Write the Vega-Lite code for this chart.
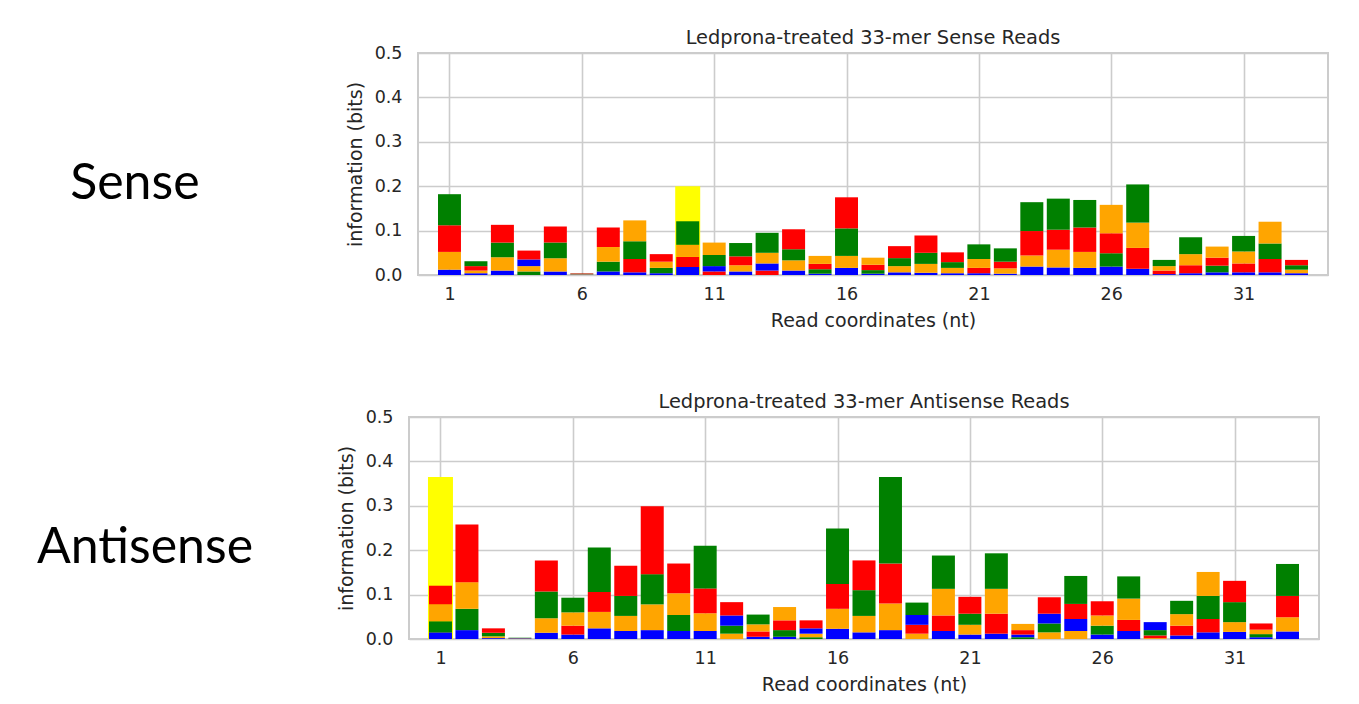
{
  "$schema": "https://vega.github.io/schema/vega-lite/v6.json",
  "background": "white",
  "padding": {"top": 26, "left": 0, "right": 0, "bottom": 0},
  "config": {
    "font": "DejaVu Sans",
    "view": {"stroke": "#cccccc", "strokeWidth": 2},
    "axis": {
      "labelFont": "DejaVu Sans", "labelFontSize": 17.5, "labelColor": "#262626",
      "titleFont": "DejaVu Sans", "titleFontSize": 19, "titleFontWeight": "normal", "titleColor": "#262626",
      "ticks": false, "tickSize": 0, "domain": false,
      "gridColor": "#cccccc", "gridWidth": 1.6, "zindex": 1
    },
    "title": {"font": "DejaVu Sans", "fontSize": 19.4, "fontWeight": "normal", "color": "#262626", "baseline": "alphabetic", "offset": -4}
  },
  "datasets": {
    "sense": [
      {"pos":1,"base":"C","bits":0.012},{"pos":1,"base":"G","bits":0.04},{"pos":1,"base":"T","bits":0.06},{"pos":1,"base":"A","bits":0.07},
      {"pos":2,"base":"C","bits":0.004},{"pos":2,"base":"G","bits":0.006},{"pos":2,"base":"T","bits":0.01},{"pos":2,"base":"A","bits":0.011},
      {"pos":3,"base":"C","bits":0.01},{"pos":3,"base":"G","bits":0.03},{"pos":3,"base":"A","bits":0.033},{"pos":3,"base":"T","bits":0.04},
      {"pos":4,"base":"A","bits":0.008},{"pos":4,"base":"G","bits":0.012},{"pos":4,"base":"C","bits":0.015},{"pos":4,"base":"T","bits":0.02},
      {"pos":5,"base":"C","bits":0.008},{"pos":5,"base":"G","bits":0.03},{"pos":5,"base":"A","bits":0.035},{"pos":5,"base":"T","bits":0.036},
      {"pos":6,"base":"C","bits":0.001},{"pos":6,"base":"G","bits":0.001},{"pos":6,"base":"A","bits":0.001},{"pos":6,"base":"T","bits":0.001},
      {"pos":7,"base":"C","bits":0.008},{"pos":7,"base":"A","bits":0.022},{"pos":7,"base":"G","bits":0.033},{"pos":7,"base":"T","bits":0.044},
      {"pos":8,"base":"C","bits":0.006},{"pos":8,"base":"T","bits":0.03},{"pos":8,"base":"A","bits":0.04},{"pos":8,"base":"G","bits":0.047},
      {"pos":9,"base":"C","bits":0.004},{"pos":9,"base":"A","bits":0.012},{"pos":9,"base":"G","bits":0.014},{"pos":9,"base":"T","bits":0.017},
      {"pos":10,"base":"C","bits":0.018},{"pos":10,"base":"T","bits":0.023},{"pos":10,"base":"G","bits":0.027},{"pos":10,"base":"A","bits":0.053},
      {"pos":11,"base":"T","bits":0.008},{"pos":11,"base":"C","bits":0.012},{"pos":11,"base":"A","bits":0.025},{"pos":11,"base":"G","bits":0.028},
      {"pos":12,"base":"C","bits":0.008},{"pos":12,"base":"G","bits":0.014},{"pos":12,"base":"T","bits":0.02},{"pos":12,"base":"A","bits":0.03},
      {"pos":13,"base":"T","bits":0.01},{"pos":13,"base":"C","bits":0.016},{"pos":13,"base":"G","bits":0.024},{"pos":13,"base":"A","bits":0.045},
      {"pos":14,"base":"C","bits":0.01},{"pos":14,"base":"G","bits":0.023},{"pos":14,"base":"A","bits":0.025},{"pos":14,"base":"T","bits":0.045},
      {"pos":15,"base":"C","bits":0.003},{"pos":15,"base":"A","bits":0.01},{"pos":15,"base":"T","bits":0.012},{"pos":15,"base":"G","bits":0.018},
      {"pos":16,"base":"C","bits":0.016},{"pos":16,"base":"G","bits":0.027},{"pos":16,"base":"A","bits":0.062},{"pos":16,"base":"T","bits":0.07},
      {"pos":17,"base":"C","bits":0.003},{"pos":17,"base":"A","bits":0.008},{"pos":17,"base":"T","bits":0.012},{"pos":17,"base":"G","bits":0.016},
      {"pos":18,"base":"C","bits":0.006},{"pos":18,"base":"G","bits":0.014},{"pos":18,"base":"A","bits":0.018},{"pos":18,"base":"T","bits":0.027},
      {"pos":19,"base":"C","bits":0.005},{"pos":19,"base":"G","bits":0.02},{"pos":19,"base":"A","bits":0.025},{"pos":19,"base":"T","bits":0.039},
      {"pos":20,"base":"C","bits":0.004},{"pos":20,"base":"G","bits":0.012},{"pos":20,"base":"A","bits":0.013},{"pos":20,"base":"T","bits":0.022},
      {"pos":21,"base":"C","bits":0.004},{"pos":21,"base":"T","bits":0.012},{"pos":21,"base":"G","bits":0.02},{"pos":21,"base":"A","bits":0.033},
      {"pos":22,"base":"C","bits":0.003},{"pos":22,"base":"G","bits":0.012},{"pos":22,"base":"T","bits":0.015},{"pos":22,"base":"A","bits":0.03},
      {"pos":23,"base":"C","bits":0.019},{"pos":23,"base":"G","bits":0.025},{"pos":23,"base":"T","bits":0.055},{"pos":23,"base":"A","bits":0.065},
      {"pos":24,"base":"C","bits":0.017},{"pos":24,"base":"G","bits":0.04},{"pos":24,"base":"T","bits":0.045},{"pos":24,"base":"A","bits":0.07},
      {"pos":25,"base":"C","bits":0.016},{"pos":25,"base":"G","bits":0.036},{"pos":25,"base":"T","bits":0.055},{"pos":25,"base":"A","bits":0.062},
      {"pos":26,"base":"C","bits":0.019},{"pos":26,"base":"A","bits":0.03},{"pos":26,"base":"T","bits":0.045},{"pos":26,"base":"G","bits":0.064},
      {"pos":27,"base":"C","bits":0.014},{"pos":27,"base":"T","bits":0.047},{"pos":27,"base":"G","bits":0.057},{"pos":27,"base":"A","bits":0.086},
      {"pos":28,"base":"C","bits":0.002},{"pos":28,"base":"T","bits":0.008},{"pos":28,"base":"G","bits":0.01},{"pos":28,"base":"A","bits":0.014},
      {"pos":29,"base":"C","bits":0.004},{"pos":29,"base":"T","bits":0.018},{"pos":29,"base":"G","bits":0.025},{"pos":29,"base":"A","bits":0.038},
      {"pos":30,"base":"C","bits":0.006},{"pos":30,"base":"A","bits":0.015},{"pos":30,"base":"T","bits":0.018},{"pos":30,"base":"G","bits":0.025},
      {"pos":31,"base":"C","bits":0.006},{"pos":31,"base":"T","bits":0.02},{"pos":31,"base":"G","bits":0.027},{"pos":31,"base":"A","bits":0.035},
      {"pos":32,"base":"C","bits":0.006},{"pos":32,"base":"T","bits":0.03},{"pos":32,"base":"A","bits":0.035},{"pos":32,"base":"G","bits":0.049},
      {"pos":33,"base":"C","bits":0.004},{"pos":33,"base":"G","bits":0.008},{"pos":33,"base":"A","bits":0.01},{"pos":33,"base":"T","bits":0.012}
    ],
    "antisense": [
      {"pos":1,"base":"C","bits":0.015},{"pos":1,"base":"A","bits":0.025},{"pos":1,"base":"G","bits":0.038},{"pos":1,"base":"T","bits":0.042},
      {"pos":2,"base":"C","bits":0.02},{"pos":2,"base":"A","bits":0.048},{"pos":2,"base":"G","bits":0.06},{"pos":2,"base":"T","bits":0.13},
      {"pos":3,"base":"C","bits":0.002},{"pos":3,"base":"G","bits":0.004},{"pos":3,"base":"A","bits":0.008},{"pos":3,"base":"T","bits":0.01},
      {"pos":4,"base":"G","bits":0.0005},{"pos":4,"base":"T","bits":0.0006},{"pos":4,"base":"C","bits":0.0008},{"pos":4,"base":"A","bits":0.001},
      {"pos":5,"base":"C","bits":0.014},{"pos":5,"base":"G","bits":0.033},{"pos":5,"base":"A","bits":0.06},{"pos":5,"base":"T","bits":0.07},
      {"pos":6,"base":"C","bits":0.01},{"pos":6,"base":"T","bits":0.02},{"pos":6,"base":"G","bits":0.03},{"pos":6,"base":"A","bits":0.033},
      {"pos":7,"base":"C","bits":0.024},{"pos":7,"base":"G","bits":0.037},{"pos":7,"base":"T","bits":0.045},{"pos":7,"base":"A","bits":0.1},
      {"pos":8,"base":"C","bits":0.018},{"pos":8,"base":"G","bits":0.034},{"pos":8,"base":"A","bits":0.045},{"pos":8,"base":"T","bits":0.068},
      {"pos":9,"base":"C","bits":0.02},{"pos":9,"base":"G","bits":0.058},{"pos":9,"base":"A","bits":0.068},{"pos":9,"base":"T","bits":0.153},
      {"pos":10,"base":"C","bits":0.018},{"pos":10,"base":"A","bits":0.036},{"pos":10,"base":"G","bits":0.049},{"pos":10,"base":"T","bits":0.067},
      {"pos":11,"base":"C","bits":0.018},{"pos":11,"base":"G","bits":0.04},{"pos":11,"base":"T","bits":0.056},{"pos":11,"base":"A","bits":0.096},
      {"pos":12,"base":"G","bits":0.012},{"pos":12,"base":"A","bits":0.018},{"pos":12,"base":"C","bits":0.023},{"pos":12,"base":"T","bits":0.03},
      {"pos":13,"base":"C","bits":0.005},{"pos":13,"base":"T","bits":0.012},{"pos":13,"base":"G","bits":0.016},{"pos":13,"base":"A","bits":0.022},
      {"pos":14,"base":"C","bits":0.005},{"pos":14,"base":"A","bits":0.015},{"pos":14,"base":"T","bits":0.022},{"pos":14,"base":"G","bits":0.03},
      {"pos":15,"base":"A","bits":0.004},{"pos":15,"base":"G","bits":0.008},{"pos":15,"base":"C","bits":0.012},{"pos":15,"base":"T","bits":0.018},
      {"pos":16,"base":"C","bits":0.023},{"pos":16,"base":"G","bits":0.045},{"pos":16,"base":"T","bits":0.056},{"pos":16,"base":"A","bits":0.125},
      {"pos":17,"base":"C","bits":0.015},{"pos":17,"base":"G","bits":0.037},{"pos":17,"base":"A","bits":0.058},{"pos":17,"base":"T","bits":0.067},
      {"pos":18,"base":"C","bits":0.02},{"pos":18,"base":"G","bits":0.06},{"pos":18,"base":"T","bits":0.09},{"pos":18,"base":"A","bits":0.195},
      {"pos":19,"base":"G","bits":0.012},{"pos":19,"base":"T","bits":0.02},{"pos":19,"base":"C","bits":0.022},{"pos":19,"base":"A","bits":0.028},
      {"pos":20,"base":"C","bits":0.018},{"pos":20,"base":"T","bits":0.035},{"pos":20,"base":"G","bits":0.06},{"pos":20,"base":"A","bits":0.075},
      {"pos":21,"base":"C","bits":0.01},{"pos":21,"base":"G","bits":0.022},{"pos":21,"base":"A","bits":0.025},{"pos":21,"base":"T","bits":0.038},
      {"pos":22,"base":"C","bits":0.012},{"pos":22,"base":"T","bits":0.045},{"pos":22,"base":"G","bits":0.056},{"pos":22,"base":"A","bits":0.08},
      {"pos":23,"base":"A","bits":0.004},{"pos":23,"base":"C","bits":0.006},{"pos":23,"base":"T","bits":0.01},{"pos":23,"base":"G","bits":0.014},
      {"pos":24,"base":"G","bits":0.015},{"pos":24,"base":"A","bits":0.02},{"pos":24,"base":"C","bits":0.022},{"pos":24,"base":"T","bits":0.037},
      {"pos":25,"base":"G","bits":0.018},{"pos":25,"base":"C","bits":0.027},{"pos":25,"base":"T","bits":0.034},{"pos":25,"base":"A","bits":0.063},
      {"pos":26,"base":"C","bits":0.01},{"pos":26,"base":"A","bits":0.02},{"pos":26,"base":"G","bits":0.023},{"pos":26,"base":"T","bits":0.032},
      {"pos":27,"base":"C","bits":0.018},{"pos":27,"base":"T","bits":0.025},{"pos":27,"base":"G","bits":0.048},{"pos":27,"base":"A","bits":0.05},
      {"pos":28,"base":"G","bits":0.002},{"pos":28,"base":"T","bits":0.006},{"pos":28,"base":"A","bits":0.012},{"pos":28,"base":"C","bits":0.018},
      {"pos":29,"base":"C","bits":0.008},{"pos":29,"base":"T","bits":0.022},{"pos":29,"base":"G","bits":0.026},{"pos":29,"base":"A","bits":0.03},
      {"pos":30,"base":"C","bits":0.015},{"pos":30,"base":"T","bits":0.03},{"pos":30,"base":"A","bits":0.052},{"pos":30,"base":"G","bits":0.054},
      {"pos":31,"base":"C","bits":0.016},{"pos":31,"base":"G","bits":0.022},{"pos":31,"base":"A","bits":0.045},{"pos":31,"base":"T","bits":0.048},
      {"pos":32,"base":"C","bits":0.004},{"pos":32,"base":"A","bits":0.007},{"pos":32,"base":"G","bits":0.01},{"pos":32,"base":"T","bits":0.014},
      {"pos":33,"base":"C","bits":0.017},{"pos":33,"base":"G","bits":0.032},{"pos":33,"base":"T","bits":0.048},{"pos":33,"base":"A","bits":0.072}
    ],
    "hl_sense": [{"pos": 10, "top": 0.2}],
    "hl_antisense": [{"pos": 1, "top": 0.365}]
  },
  "vconcat": [
    {
      "spacing": 0,
      "hconcat": [
        {
          "width": 345, "height": 280,
          "view": {"stroke": null},
          "data": {"values": [{"label": "Sense"}]},
          "mark": {"type": "text", "font": "Lato", "fontSize": 50, "color": "#000000", "align": "center", "baseline": "middle"},
          "encoding": {
            "text": {"field": "label"},
            "x": {"datum": 0.391, "type": "quantitative", "scale": {"domain": [0, 1]}, "axis": null},
            "y": {"datum": 0.533, "type": "quantitative", "scale": {"domain": [0, 1]}, "axis": null}
          }
        },
        {
          "width": 910, "height": 222,
          "title": {"text": "Ledprona-treated 33-mer Sense Reads"},
          "layer": [
            {
              "data": {"name": "hl_sense"},
              "mark": {"type": "bar", "color": "#ffff00", "width": 25},
              "encoding": {
                "x": {"field": "pos", "type": "quantitative"},
                "y": {"field": "top", "type": "quantitative"}
              }
            },
            {
              "data": {"name": "sense"},
              "mark": {"type": "bar", "width": 23},
              "encoding": {
                "x": {"field": "pos", "type": "quantitative", "scale": {"domain": [0, 34], "nice": false, "zero": false},
                      "axis": {"values": [1, 6, 11, 16, 21, 26, 31], "title": "Read coordinates (nt)", "labelPadding": 10, "titlePadding": 9, "labelAngle": 0}},
                "y": {"field": "bits", "type": "quantitative", "stack": "zero", "scale": {"domain": [0, 0.5], "nice": false},
                      "axis": {"values": [0, 0.1, 0.2, 0.3, 0.4, 0.5], "format": ".1f", "title": "information (bits)", "labelPadding": 16, "titlePadding": 9}},
                "color": {"field": "base", "type": "nominal", "scale": {"domain": ["A", "C", "G", "T"], "range": ["#008000", "#0000ff", "#ffa500", "#ff0000"]}, "legend": null},
                "order": {"field": "bits", "type": "quantitative", "sort": "ascending"}
              }
            }
          ]
        }
      ]
    },
    {
      "spacing": 0,
      "hconcat": [
        {
          "width": 336, "height": 280,
          "view": {"stroke": null},
          "data": {"values": [{"label": "Antisense"}]},
          "mark": {"type": "text", "font": "Lato", "fontSize": 50, "color": "#000000", "align": "center", "baseline": "middle"},
          "encoding": {
            "text": {"field": "label"},
            "x": {"datum": 0.4315, "type": "quantitative", "scale": {"domain": [0, 1]}, "axis": null},
            "y": {"datum": 0.533, "type": "quantitative", "scale": {"domain": [0, 1]}, "axis": null}
          }
        },
        {
          "width": 910, "height": 222,
          "title": {"text": "Ledprona-treated 33-mer Antisense Reads"},
          "layer": [
            {
              "data": {"name": "hl_antisense"},
              "mark": {"type": "bar", "color": "#ffff00", "width": 25},
              "encoding": {
                "x": {"field": "pos", "type": "quantitative"},
                "y": {"field": "top", "type": "quantitative"}
              }
            },
            {
              "data": {"name": "antisense"},
              "mark": {"type": "bar", "width": 23},
              "encoding": {
                "x": {"field": "pos", "type": "quantitative", "scale": {"domain": [0, 34], "nice": false, "zero": false},
                      "axis": {"values": [1, 6, 11, 16, 21, 26, 31], "title": "Read coordinates (nt)", "labelPadding": 10, "titlePadding": 9, "labelAngle": 0}},
                "y": {"field": "bits", "type": "quantitative", "stack": "zero", "scale": {"domain": [0, 0.5], "nice": false},
                      "axis": {"values": [0, 0.1, 0.2, 0.3, 0.4, 0.5], "format": ".1f", "title": "information (bits)", "labelPadding": 16, "titlePadding": 9}},
                "color": {"field": "base", "type": "nominal", "scale": {"domain": ["A", "C", "G", "T"], "range": ["#008000", "#0000ff", "#ffa500", "#ff0000"]}, "legend": null},
                "order": {"field": "bits", "type": "quantitative", "sort": "ascending"}
              }
            }
          ]
        }
      ]
    }
  ],
  "spacing": 57
}
